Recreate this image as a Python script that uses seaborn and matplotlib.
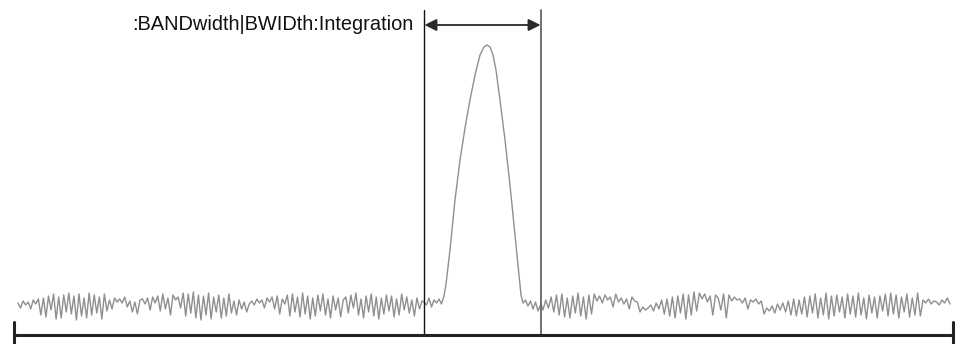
import numpy as np
import pandas as pd
import matplotlib
matplotlib.use('Agg')
import matplotlib.pyplot as plt
import seaborn as sns

# Trace levels (noise floor = 0)
noise_left = [3, -2, 5, 1, 4, -3, 6, 2, 7, -9, 8, -11, 10, -4, 12, -13, 9, -12, 11, -6,
              13, -8, 10, -14, 12, -10, 8, -12, 13, -9, 11, -7, 9, -13, 12, -5, 6, -3, 8, 4,
              7, 3, 9, -1, 5, -6, 4, -8, 6, 7, 2, 8, -4, 9, 3, 10, -5, 12, -3, 8,
              -9, 11, 6, 9, -2, 13, -10, 12, -7, 14, -12, 11, -14, 10, -9, 13, -13, 9, -6, 11,
              -12, 8, -10, 12, -7, 5, -9, 6, -3, 4, -6, 2, 5, 1, 7, 3, 6, -2, 8, 4,
              9, -3, 10, -8, 7, 2, 11, -10, 12, -6, 9, -11, 13, -8, 10, -13, 8, -10, 11, -5,
              12, -9, 7, -12, 10, -4, 8, -11, 6, 9, -7, 11, -2, 13, -9, 7, -12, 10, -6, 12,
              -10, 9, -13, 8, -8, 11, -5, 10, -11, 7, -9, 12, -4, 9, -7, 6, -10, 8, -3, 5]
noise_right = [-4, 6, -2, 9, -6, 11, -9, 12, -11, 8, -12, 10, -7, 13, -10, 9, -13, 11, -8, 12,
               5, 10, 3, 11, 6, 9, -1, 12, 4, 8, 2, 7, -3, 9, 5, 4, -6, -1, -4, -2,
               1, -5, 3, -3, 6, -8, 7, -10, 9, -12, 10, -7, 12, -13, 11, -9, 14, -5, 13, 7,
               12, 4, 10, -9, 11, 8, -4, 12, -12, 11, 5, 9, 6, 7, 3, 8, -3, 6, 4, 7,
               2, 5, -8, -2, -5, 0, -7, 2, -4, 3, -6, 5, -9, 7, -10, 6, -8, 9, -11, 10,
               -7, 12, -12, 8, -9, 13, -13, 10, -10, 11, -6, 9, -12, 12, -8, 10, -11, 13, -9, 8,
               -13, 11, -7, 9, -12, 10, -5, 12, -10, 13, -8, 11, -12, 9, -6, 12, -11, 8, -9, 13,
               -10, 6, 3, 7, 2, 5, 4, 1, 6, 3, 8, 2]
peak_x = [424, 426.5, 429, 431.5, 434, 436.5, 439, 441.5, 444, 446, 450, 455, 460, 465,
          470, 475, 480, 484, 487, 490, 493, 496, 500, 505, 510, 515, 519, 521, 523,
          525.5, 528, 530.5, 533, 535.5, 538, 541]
peak_y = [4, 1, 8, -1, 6, 3, 7, 2, 10, 22, 56, 106, 146, 178,
          206, 231, 251, 259, 261, 259, 251, 236, 206, 166, 121, 71, 31, 11, 3,
          6, 0, 5, -3, 4, -5, 2]

label = ':BANDwidth|BWIDth:Integration'

trace = pd.DataFrame({
    'x': np.concatenate([np.linspace(18, 422, len(noise_left)), peak_x,
                         np.linspace(543, 950, len(noise_right))]),
    'level': np.concatenate([noise_left, peak_y, noise_right]),
})

sns.set_style('white')
plt.rcParams['font.family'] = ['Liberation Sans', 'DejaVu Sans']

fig = plt.figure(figsize=(9.56, 3.44), dpi=100)
ax = fig.add_axes([0, 0, 1, 1])
sns.lineplot(data=trace, x='x', y='level', color='#8f8f8f', lw=1.0, ax=ax)

# markers of the integration bandwidth
ax.plot([424, 424], [296, -29], color='#111111', lw=1.0)
ax.plot([541, 541], [296, -29], color='#666666', lw=1.3)
ax.annotate('', xy=(424.5, 281), xytext=(540.5, 281),
            arrowprops=dict(arrowstyle='<|-|>', color='#2a2a2a', lw=1.3,
                            mutation_scale=18, shrinkA=0, shrinkB=0))
ax.text(413, 281, label, ha='right', va='center', fontsize=14.4, color='#111111')

# span bracket at the bottom
ax.plot([14, 953], [-29, -29], color='#222222', lw=2.2)
ax.plot([14, 14], [-16, -38], color='#222222', lw=2.2)
ax.plot([953, 953], [-16, -38], color='#222222', lw=2.2)

ax.set_xlim(0, 956)
ax.set_ylim(-38, 306)
ax.set_axis_off()

fig.savefig('out.png', dpi=100)
